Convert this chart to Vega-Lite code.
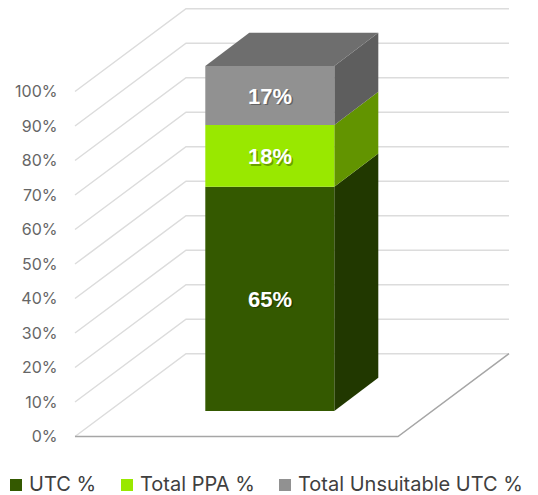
{
"$schema":"https://vega.github.io/schema/vega-lite/v6.json",
"width":434,"height":429.5,
"autosize":{"type":"none"},
"padding":{"left":75,"top":7,"right":29,"bottom":58.5},
"background":"white",
"config":{"view":{"stroke":null}},
"datasets":{
"grid":[
{"tick":0,"gx":0,"gy":0},{"tick":0,"gx":111,"gy":24},{"tick":0,"gx":434,"gy":24},
{"tick":10,"gx":0,"gy":10},{"tick":10,"gx":111,"gy":34},{"tick":10,"gx":434,"gy":34},
{"tick":20,"gx":0,"gy":20},{"tick":20,"gx":111,"gy":44},{"tick":20,"gx":434,"gy":44},
{"tick":30,"gx":0,"gy":30},{"tick":30,"gx":111,"gy":54},{"tick":30,"gx":434,"gy":54},
{"tick":40,"gx":0,"gy":40},{"tick":40,"gx":111,"gy":64},{"tick":40,"gx":434,"gy":64},
{"tick":50,"gx":0,"gy":50},{"tick":50,"gx":111,"gy":74},{"tick":50,"gx":434,"gy":74},
{"tick":60,"gx":0,"gy":60},{"tick":60,"gx":111,"gy":84},{"tick":60,"gx":434,"gy":84},
{"tick":70,"gx":0,"gy":70},{"tick":70,"gx":111,"gy":94},{"tick":70,"gx":434,"gy":94},
{"tick":80,"gx":0,"gy":80},{"tick":80,"gx":111,"gy":104},{"tick":80,"gx":434,"gy":104},
{"tick":90,"gx":0,"gy":90},{"tick":90,"gx":111,"gy":114},{"tick":90,"gx":434,"gy":114},
{"tick":100,"gx":0,"gy":100},{"tick":100,"gx":111,"gy":124},{"tick":100,"gx":434,"gy":124}
],
"floor":[{"fx":0,"fy":0},{"fx":323,"fy":0},{"fx":434,"fy":24}],
"bars":[
{"series":"UTC %","value":65,"label":"65%","xl":130.3,"xr":259.3,"xc":195,"y0":7.4,"y1":72.4,"ym":39.6},
{"series":"Total PPA %","value":18,"label":"18%","xl":130.3,"xr":259.3,"xc":195,"y0":72.4,"y1":90.3,"ym":81},
{"series":"Total Unsuitable UTC %","value":17,"label":"17%","xl":130.3,"xr":259.3,"xc":195,"y0":90.3,"y1":107.4,"ym":98.5}
],
"side":[
{"series":"UTC %","sx":259.3,"s0":7.4,"s1":72.4},{"series":"UTC %","sx":303.3,"s0":17,"s1":82},
{"series":"Total PPA %","sx":259.3,"s0":72.4,"s1":90.3},{"series":"Total PPA %","sx":303.3,"s0":82,"s1":99.9},
{"series":"Total Unsuitable UTC %","sx":259.3,"s0":90.3,"s1":107.4},{"series":"Total Unsuitable UTC %","sx":303.3,"s0":99.9,"s1":117}
],
"top":[{"ty":107.4,"t0":130.3,"t1":259.3},{"ty":117,"t0":174.3,"t1":303.3}]
},
"layer":[
{"data":{"name":"grid"},
 "mark":{"type":"line","color":"#dcdcdc","strokeWidth":1.5,"interpolate":"linear"},
 "encoding":{
  "x":{"field":"gx","type":"quantitative","scale":{"domain":[0,434],"nice":false,"zero":false},"axis":null},
  "y":{"field":"gy","type":"quantitative","scale":{"domain":[0,124.5],"nice":false},
   "axis":{"values":[0,10,20,30,40,50,60,70,80,90,100],"labelExpr":"datum.value + '%'","title":null,"grid":false,"domain":false,"ticks":false,"labelPadding":18,"labelFont":"Inter","labelFontSize":16,"labelColor":"#666666","labelFontWeight":"normal"}},
  "detail":{"field":"tick","type":"nominal"},
  "order":{"field":"gx","type":"quantitative"}}},
{"data":{"name":"floor"},
 "mark":{"type":"line","color":"#a6a6a6","strokeWidth":1.5},
 "encoding":{
  "x":{"field":"fx","type":"quantitative"},
  "y":{"field":"fy","type":"quantitative"},
  "order":{"field":"fx","type":"quantitative"}}},
{"data":{"name":"side"},
 "mark":{"type":"area","orient":"vertical"},
 "encoding":{
  "x":{"field":"sx","type":"quantitative"},
  "y":{"field":"s0","type":"quantitative","stack":null},
  "y2":{"field":"s1"},
  "color":{"field":"series","type":"nominal","legend":null,
   "scale":{"domain":["UTC %","Total PPA %","Total Unsuitable UTC %"],"range":["#213800","#629400","#5e5e5e"]}}}},
{"data":{"name":"top"},
 "mark":{"type":"area","orient":"horizontal","color":"#6e6e6e"},
 "encoding":{
  "y":{"field":"ty","type":"quantitative"},
  "x":{"field":"t0","type":"quantitative","stack":null},
  "x2":{"field":"t1"}}},
{"data":{"name":"bars"},
 "mark":{"type":"rect"},
 "encoding":{
  "x":{"field":"xl","type":"quantitative"},
  "x2":{"field":"xr"},
  "y":{"field":"y0","type":"quantitative"},
  "y2":{"field":"y1"},
  "color":{"field":"series","type":"nominal",
   "scale":{"domain":["UTC %","Total PPA %","Total Unsuitable UTC %"],"range":["#345900","#99e800","#919191"]},
   "legend":{"title":null,"orient":"none","direction":"horizontal","columns":3,"legendX":-69,"legendY":468,"symbolType":"square","symbolSize":144,"symbolStrokeWidth":0,"labelFont":"Inter","labelFontSize":20,"labelColor":"#404040","labelOffset":3,"columnPadding":20,"padding":0,"labelLimit":300}}}},
{"data":{"name":"bars"},
 "mark":{"type":"text","font":"Liberation Sans","fontWeight":"bold","fontSize":22,"color":"#000000","opacity":0.3,"dx":1.5,"dy":1.5,"baseline":"middle"},
 "encoding":{
  "x":{"field":"xc","type":"quantitative"},
  "y":{"field":"ym","type":"quantitative"},
  "text":{"field":"label"}}},
{"data":{"name":"bars"},
 "mark":{"type":"text","font":"Liberation Sans","fontWeight":"bold","fontSize":22,"color":"#ffffff","baseline":"middle"},
 "encoding":{
  "x":{"field":"xc","type":"quantitative"},
  "y":{"field":"ym","type":"quantitative"},
  "text":{"field":"label"}}}
],
"resolve":{"scale":{"color":"independent"}}
}
